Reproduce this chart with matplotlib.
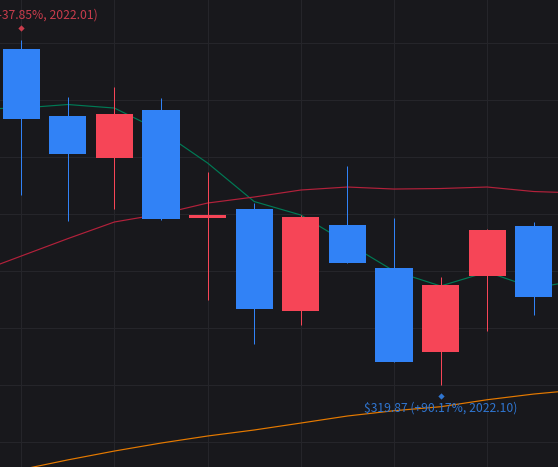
import matplotlib
matplotlib.use("Agg")
import matplotlib.pyplot as plt
import numpy as np

plt.rcParams['font.family'] = ['Noto Sans CJK KR', 'DejaVu Sans']

months = ['2022.01', '2022.02', '2022.03', '2022.04', '2022.05', '2022.06',
          '2022.07', '2022.08', '2022.09', '2022.10', '2022.11', '2022.12']
open_ = [968.4, 839.1, 758.1, 850.7, 642.3, 659.6, 462.8, 628.8, 545.8, 383.7, 530.3, 626.8]
close = [833.3, 765.8, 843.0, 640.4, 648.1, 466.6, 644.2, 555.4, 364.4, 513.0, 619.1, 489.8]
high  = [985.8, 875.8, 895.1, 873.8, 731.0, 671.2, 648.1, 742.6, 642.3, 528.4, 621.0, 634.6]
low   = [686.7, 636.5, 659.6, 638.4, 484.0, 399.1, 435.8, 555.4, 364.4, 320.0, 424.2, 455.1]

ma_x = list(range(-1, 13))
ma_green  = [852.6, 854.5, 861.3, 854.5, 810.2, 748.4, 674.1, 648.1, 594.0, 540.0, 511.1, 538.1, 507.2, 522.6]
ma_red    = [535.2, 568.9, 602.5, 634.6, 650.0, 671.2, 682.8, 696.3, 702.1, 698.2, 699.2, 702.1, 693.4, 690.5]
ma_orange = [136.7, 156.9, 175.5, 192.6, 208.0, 221.6, 233.2, 246.6, 260.2, 270.4, 278.1, 291.6, 302.6, 311.0]

grid_y = [210, 320, 430, 540, 650, 760, 870, 980]
grid_x = [0, 2, 4, 6, 8, 10]

BG, GRID = '#18181c', '#25252a'
BLUE, RED = '#3182f6', '#f64557'

fig = plt.figure(figsize=(5.58, 4.67), dpi=100, facecolor=BG)
ax = fig.add_axes([0, 0, 1, 1], facecolor=BG)
ax.set_xlim(-0.455, 11.52)
ax.set_ylim(161.8, 1063)
for s in ax.spines.values():
    s.set_visible(False)
ax.set_xticks(grid_x)
ax.set_yticks(grid_y)
ax.tick_params(length=0, labelbottom=False, labelleft=False)
ax.grid(True, color=GRID, lw=0.72)
ax.set_axisbelow(True)

ax.plot(ma_x, ma_green, color='#007a55', lw=0.85, zorder=2)
ax.plot(ma_x, ma_red, color='#b3213b', lw=0.85, zorder=2)
ax.plot(ma_x, ma_orange, color='#e67a00', lw=0.85, zorder=2)

x = np.arange(len(months))
colors = [RED if c >= o else BLUE for o, c in zip(open_, close)]
ax.vlines(x, low, high, colors=colors, lw=0.72, zorder=3)
bottoms = [min(o, c) for o, c in zip(open_, close)]
heights = [abs(o - c) for o, c in zip(open_, close)]
ax.bar(x, heights, bottom=bottoms, width=0.795, color=colors, lw=0, zorder=4)

imax, imin = 0, 9
ax.plot([imax], [high[imax] + 23], marker='D', ms=3.2, color='#c93c4c', mew=0, zorder=5)
ax.plot([imin], [low[imin] - 21], marker='D', ms=3.2, color='#2f75d0', mew=0, zorder=5)
ax.text(imax + 0.02, high[imax] + 48, '$978.80 (-37.85%, 2022.01)', color='#c93c4c',
        fontsize=8.75, ha='center', va='center', zorder=5, clip_on=False)
ax.text(imin + 0.01, low[imin] - 44, '$319.87 (+90.17%, 2022.10)', color='#2f75d0',
        fontsize=8.75, ha='center', va='center', zorder=5)

fig.savefig('out.png', dpi=100, facecolor=BG)
